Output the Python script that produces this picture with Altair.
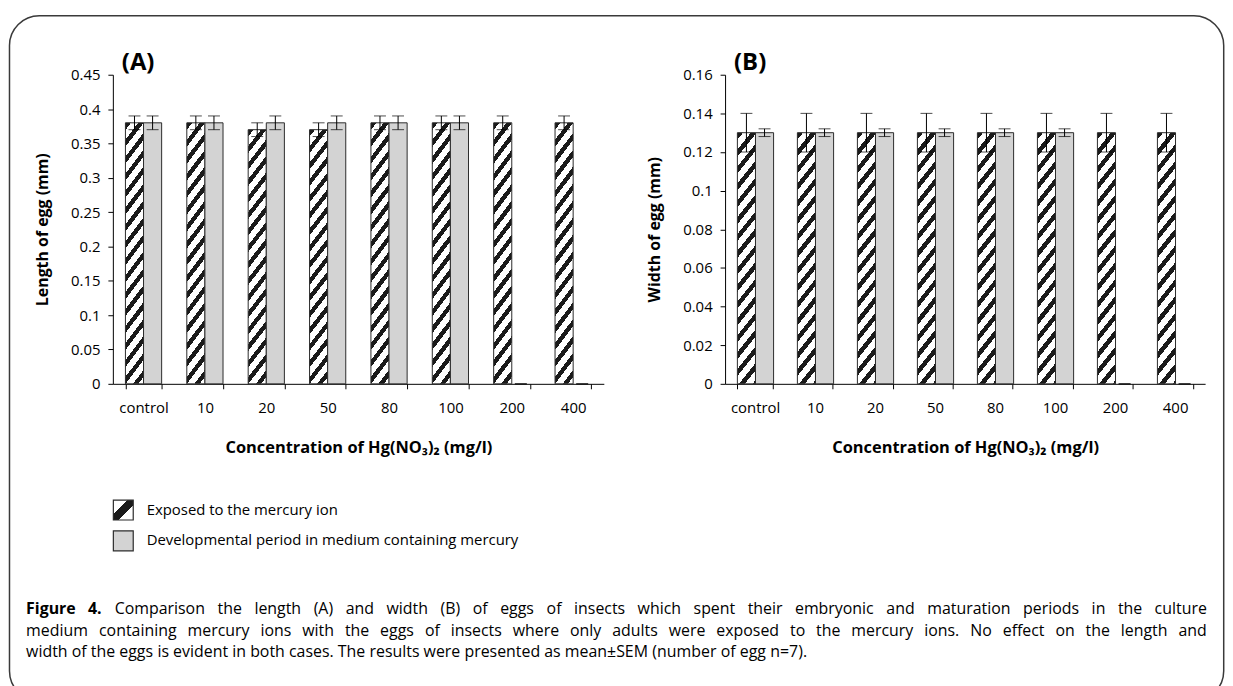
import math
import pandas as pd
import altair as alt

# ---------------- data ----------------
categories = ["control", "10", "20", "50", "80", "100", "200", "400"]
series = ["Exposed to the mercury ion", "Developmental period in medium containing mercury"]

length_exposed = [0.38, 0.38, 0.37, 0.37, 0.38, 0.38, 0.38, 0.38]
length_exposed_err = [0.01, 0.01, 0.01, 0.01, 0.01, 0.01, 0.01, 0.01]
length_dev = [0.38, 0.38, 0.38, 0.38, 0.38, 0.38, 0.0, 0.0]
length_dev_err = [0.01, 0.01, 0.01, 0.01, 0.01, 0.01, 0.0, 0.0]

width_exposed = [0.13, 0.13, 0.13, 0.13, 0.13, 0.13, 0.13, 0.13]
width_exposed_err = [0.01, 0.01, 0.01, 0.01, 0.01, 0.01, 0.01, 0.01]
width_dev = [0.13, 0.13, 0.13, 0.13, 0.13, 0.13, 0.0, 0.0]
width_dev_err = [0.002, 0.002, 0.002, 0.002, 0.002, 0.002, 0.0, 0.0]

length_ticks = [0, 0.05, 0.1, 0.15, 0.2, 0.25, 0.3, 0.35, 0.4, 0.45]
width_ticks = [0, 0.02, 0.04, 0.06, 0.08, 0.1, 0.12, 0.14, 0.16]

panel_titles = ["(A)", "(B)"]
y_titles = ["Length of egg (mm)", "Width of egg (mm)"]
x_title = "Concentration of Hg(NO\u2083)\u2082 (mg/l)"
caption_bold = "Figure 4."
caption_lines = [
    "Comparison the length (A) and width (B) of eggs of insects which spent their embryonic and maturation periods in the culture",
    "medium containing mercury ions with the eggs of insects where only adults were exposed to the mercury ions. No effect on the length and",
    "width of the eggs is evident in both cases. The results were presented as mean\u00b1SEM (number of egg n=7).",
]

FONT = "Open Sans"
GRAY = "#d3d3d3"
EDGE = "#2b2b2b"
DARK = "#1a1a1a"

OX, OY = 113.3, 72.0  # page position of panel A's plot origin


def make_df(v1, e1, v2, e2):
    rows = []
    for s, vals, errs in ((series[0], v1, e1), (series[1], v2, e2)):
        for c, v, e in zip(categories, vals, errs):
            rows.append({"cat": c, "series": s, "value": v, "lo": v - e, "hi": v + e})
    return pd.DataFrame(rows)


def hatch_gradient(w, h, k=1.3, pv=17.0, frac=0.42):
    ax, ay = k / h, 1.0 / w
    s = (ax + ay) / (ax * ax + ay * ay)
    x2, y2 = s * ax, s * ay
    periods = (k * w + h) / pv
    stops = []
    N = int(math.ceil(periods))
    for i in range(N):
        a = min(1.0, i / periods)
        b = min(1.0, (i + frac) / periods)
        c = min(1.0, (i + 1) / periods)
        stops += [
            {"offset": a, "color": DARK},
            {"offset": b, "color": DARK},
            {"offset": b, "color": "#ffffff"},
            {"offset": c, "color": "#ffffff"},
        ]
    return {"gradient": "linear", "x1": 0, "y1": 0, "x2": x2, "y2": y2, "stops": stops}


swatch_gradient = {
    "gradient": "linear", "x1": 0, "y1": 0, "x2": 1, "y2": 1,
    "stops": [
        {"offset": 0, "color": "#ffffff"}, {"offset": 0.36, "color": "#ffffff"},
        {"offset": 0.36, "color": DARK}, {"offset": 0.64, "color": DARK},
        {"offset": 0.64, "color": "#ffffff"}, {"offset": 1, "color": "#ffffff"},
    ],
}

H = 311


def panel(df, domain_max, ticks, ytitle, ptitle, grad):
    xaxis = alt.Axis(title=x_title, labelAngle=0, tickBand="extent", tickSize=5,
                     labelPadding=12, titlePadding=24, labelFontSize=15,
                     titleFontSize=16.5, titleFontWeight="bold", labelColor="black",
                     titleColor="black", domainColor="black", tickColor="black",
                     labelFont=FONT, titleFont=FONT)
    xscale = alt.Scale(paddingInner=0.41, paddingOuter=0.205)
    x = alt.X("cat:N", sort=categories, scale=xscale, axis=xaxis)
    xo = alt.XOffset("series:N", sort=series, scale=alt.Scale(paddingInner=0, paddingOuter=0))
    yscale = alt.Scale(domain=[0, domain_max], nice=False, zero=True)
    yaxis = alt.Axis(title=ytitle, values=ticks, tickCount=len(ticks), format=".2~f",
                     grid=False, tickSize=5, labelPadding=8, titlePadding=20,
                     labelFontSize=15, titleFontSize=16, titleFontWeight="bold",
                     labelColor="black", titleColor="black", labelOverlap=False,
                     labelFlush=False, domainColor="black", tickColor="black",
                     labelFont=FONT, titleFont=FONT)
    base = alt.Chart(df)
    bars = base.transform_filter(alt.datum.value > 0).mark_bar(
        stroke=EDGE, strokeWidth=1
    ).encode(
        x=x, xOffset=xo, y=alt.Y("value:Q", scale=yscale, axis=yaxis, title=ytitle),
        fill=alt.condition(alt.datum.series == series[0], alt.value(grad), alt.value(GRAY)),
    )
    rules = base.mark_rule(color="black", strokeWidth=1).encode(
        x=x, xOffset=xo, y=alt.Y("lo:Q", scale=yscale, axis=yaxis, title=ytitle), y2="hi:Q")
    cap_lo = base.mark_tick(color="black", thickness=1, size=12).encode(
        x=x, xOffset=xo, y=alt.Y("lo:Q", scale=yscale, axis=yaxis, title=ytitle))
    cap_hi = base.mark_tick(color="black", thickness=1, size=12).encode(
        x=x, xOffset=xo, y=alt.Y("hi:Q", scale=yscale, axis=yaxis, title=ytitle))
    title = alt.Chart(pd.DataFrame({"t": [ptitle]})).mark_text(
        font=FONT, fontSize=24, fontWeight="bold", align="left", baseline="middle", color="black"
    ).encode(x=alt.value(9), y=alt.value(-12), text="t:N")
    return [bars, rules, cap_lo, cap_hi, title]


dfA = make_df(length_exposed, length_exposed_err, length_dev, length_dev_err)
dfB = make_df(width_exposed, width_exposed_err, width_dev, width_dev_err)

gradA = hatch_gradient(18.5, 262)
gradB = hatch_gradient(17.5, 253)

one = pd.DataFrame({"k": [0]})

frame = alt.Chart(one).mark_rect(
    cornerRadius=30, fillOpacity=0, fill="white", stroke="#3a3a3a", strokeWidth=1.5
).encode(x=alt.value(-104), x2=alt.value(1117.7), y=alt.value(-59.3), y2=alt.value(630))

sw1 = alt.Chart(one).mark_rect(fill=swatch_gradient, stroke=EDGE, strokeWidth=1.2).encode(
    x=alt.value(0.5), x2=alt.value(20.5), y=alt.value(428), y2=alt.value(448))
sw2 = alt.Chart(one).mark_rect(fill=GRAY, stroke=EDGE, strokeWidth=1.2).encode(
    x=alt.value(0.5), x2=alt.value(20.5), y=alt.value(459), y2=alt.value(479))
leg1 = alt.Chart(pd.DataFrame({"t": [series[0]]})).mark_text(
    font=FONT, fontSize=15, align="left", baseline="middle", color="black"
).encode(x=alt.value(34), y=alt.value(437.5), text="t:N")
leg2 = alt.Chart(pd.DataFrame({"t": [series[1]]})).mark_text(
    font=FONT, fontSize=15, align="left", baseline="middle", color="black"
).encode(x=alt.value(34), y=alt.value(468), text="t:N")

# ---------- justified caption (word layout) ----------
CAP_FS = 16
W_EM = {" ": 0.26, "a": 0.556, "b": 0.613, "c": 0.476, "d": 0.613, "e": 0.561, "f": 0.339,
        "g": 0.548, "h": 0.614, "i": 0.253, "j": 0.253, "k": 0.525, "l": 0.253, "m": 0.93,
        "n": 0.614, "o": 0.604, "p": 0.613, "q": 0.613, "r": 0.408, "s": 0.477, "t": 0.353,
        "u": 0.614, "v": 0.501, "w": 0.778, "x": 0.524, "y": 0.502, "z": 0.477,
        "A": 0.633, "B": 0.648, "C": 0.631, "E": 0.556, "F": 0.516, "M": 0.905, "N": 0.755,
        "S": 0.55, "T": 0.553, "(": 0.296, ")": 0.296, ".": 0.266, ",": 0.245, "=": 0.572,
        "\u00b1": 0.572}


def tw(s, bold=False):
    w = sum(W_EM.get(ch, 0.572) for ch in s) * CAP_FS
    return w * (1.07 if bold else 1.0)


LEFT, RIGHT = 26.0, 1214.0
cap_y = [610, 632, 653]
word_rows = []
for li, line in enumerate(caption_lines):
    words = [(w, li == 0 and j < 2) for j, w in enumerate(
        (caption_bold.split() if li == 0 else []) + line.split())]
    widths = [tw(w, b) for w, b in words]
    if li < len(caption_lines) - 1:
        gap = (RIGHT - LEFT - sum(widths)) / (len(words) - 1)
    else:
        gap = tw(" ")
    xpos = LEFT
    for j, ((w, b), wd) in enumerate(zip(words, widths)):
        last = li < len(caption_lines) - 1 and j == len(words) - 1
        word_rows.append({"t": w, "bold": b, "right": last,
                          "px": (RIGHT if last else xpos) - OX, "py": cap_y[li] - OY})
        xpos += wd + gap
words_df = pd.DataFrame(word_rows)


def cap_layer(df, bold, align):
    return alt.Chart(df).mark_text(
        font=FONT, fontSize=CAP_FS, fontWeight="bold" if bold else "normal",
        align=align, baseline="middle", color="black"
    ).encode(x=alt.X("px:Q", scale=None, axis=None),
             y=alt.Y("py:Q", scale=None, axis=None), text="t:N")


cap_bold_l = cap_layer(words_df[words_df["bold"]], True, "left")
cap_norm_l = cap_layer(words_df[(~words_df["bold"]) & (~words_df["right"])], False, "left")
cap_norm_r = cap_layer(words_df[words_df["right"]], False, "right")

layersA = panel(dfA, 0.45, length_ticks, y_titles[0], panel_titles[0], gradA)
layersB = panel(dfB, 0.16, width_ticks, y_titles[1], panel_titles[1], gradB)

innerA = alt.layer(frame, *layersA, sw1, sw2, leg1, leg2)
chartA = alt.layer(innerA, cap_bold_l, cap_norm_l, cap_norm_r).resolve_scale(
    x="independent", y="independent").properties(width=494, height=H)
chartB = alt.layer(*layersB).properties(width=483, height=H)

chart = alt.HConcatChart(hconcat=[chartA, chartB], spacing=122, bounds="flush").properties(
    padding={"left": 0.5, "top": 4, "right": 0, "bottom": 0},
    background="white",
).configure_view(stroke=None)

chart.save("out.html", embed_options={"renderer": "svg", "actions": False})
